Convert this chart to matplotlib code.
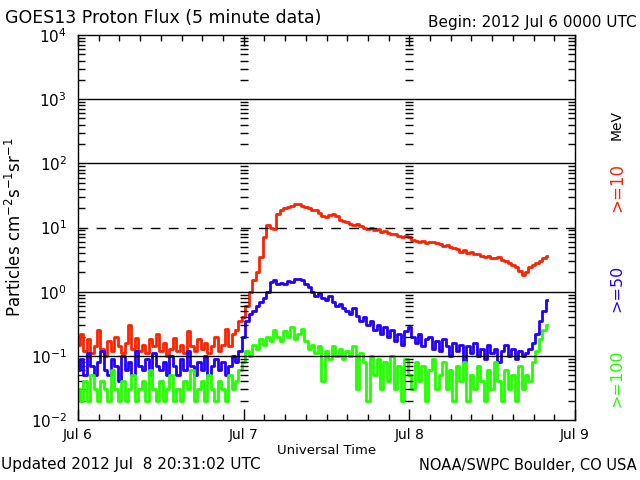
import numpy as np
import matplotlib.pyplot as plt
from matplotlib.ticker import FixedLocator, NullFormatter

# 30-minute values, starting 2012 Jul 6 00:00 UTC
red = [0.15, 0.22, 0.12, 0.18, 0.11, 0.14, 0.25, 0.13, 0.10, 0.17, 0.12, 0.20,
       0.14, 0.11, 0.16, 0.30, 0.13, 0.19, 0.12, 0.15, 0.11, 0.18, 0.14, 0.22,
       0.12, 0.16, 0.10, 0.13, 0.19, 0.12, 0.15, 0.11, 0.24, 0.14, 0.12, 0.18,
       0.13, 0.16, 0.11, 0.14, 0.20, 0.12, 0.15, 0.26, 0.14, 0.22, 0.25, 0.35,
       0.4, 0.6, 1.0, 1.5, 2.0, 3.5, 7.0, 11.0, 10.0, 9.5, 16.0, 19.0,
       20.0, 21.0, 22.0, 23.0, 23.0, 22.0, 21.0, 20.0, 19.0, 18.5, 17.0, 15.0,
       14.5, 15.5, 16.5, 15.0, 13.0, 12.5, 12.0, 11.5, 11.0, 11.5, 10.5, 10.0,
       9.5, 10.0, 9.0, 9.5, 8.5, 8.8, 8.3, 8.0, 7.8, 7.5, 7.2, 7.5,
       7.0, 6.5, 6.2, 6.0, 6.1, 5.8, 6.0, 5.9, 5.7, 5.5, 5.2, 5.3,
       5.0, 4.8, 4.7, 4.2, 4.5, 4.0, 4.2, 3.8, 3.9, 3.6, 3.5, 3.6,
       3.4, 3.3, 3.5, 3.1, 3.0, 2.8, 2.6, 2.4, 2.1, 1.8, 2.0, 2.4,
       2.6, 2.8, 3.0, 3.3, 3.6]

blue = [0.06, 0.09, 0.05, 0.11, 0.07, 0.05, 0.08, 0.12, 0.06, 0.05, 0.09, 0.07,
        0.04, 0.10, 0.06, 0.08, 0.05, 0.12, 0.07, 0.06, 0.09, 0.05, 0.11, 0.07,
        0.06, 0.08, 0.05, 0.10, 0.07, 0.05, 0.09, 0.06, 0.12, 0.07, 0.05, 0.08,
        0.06, 0.10, 0.05, 0.07, 0.09, 0.06, 0.08, 0.05, 0.07, 0.10, 0.08, 0.12,
        0.2, 0.35, 0.45, 0.5, 0.6, 0.7, 0.8, 1.0, 1.4, 1.5, 1.3, 1.35,
        1.3, 1.45, 1.4, 1.55, 1.6, 1.5, 1.3, 1.2, 1.0, 0.85, 0.95, 0.8,
        0.75, 0.85, 0.7, 0.6, 0.65, 0.55, 0.5, 0.45, 0.55, 0.42, 0.35, 0.4,
        0.3, 0.35, 0.25, 0.3, 0.22, 0.28, 0.2, 0.25, 0.17, 0.22, 0.15, 0.24,
        0.28, 0.2, 0.16, 0.22, 0.14, 0.18, 0.2, 0.13, 0.17, 0.12, 0.18, 0.14,
        0.1, 0.16, 0.12, 0.15, 0.08, 0.14, 0.11, 0.16, 0.1, 0.13, 0.09, 0.15,
        0.11, 0.13, 0.08, 0.12, 0.15, 0.1, 0.13, 0.09, 0.12, 0.1, 0.11, 0.13,
        0.16, 0.22, 0.35, 0.5, 0.75]

green = [0.03, 0.02, 0.04, 0.02, 0.05, 0.03, 0.02, 0.04, 0.03, 0.02, 0.06, 0.03,
         0.02, 0.04, 0.02, 0.03, 0.05, 0.02, 0.03, 0.04, 0.02, 0.06, 0.03, 0.02,
         0.04, 0.02, 0.03, 0.05, 0.02, 0.03, 0.02, 0.04, 0.03, 0.06, 0.02, 0.03,
         0.04, 0.02, 0.05, 0.03, 0.02, 0.04, 0.03, 0.02, 0.05, 0.03, 0.04, 0.06,
         0.08, 0.12, 0.1, 0.15, 0.13, 0.18, 0.15, 0.2, 0.17, 0.25, 0.2, 0.17,
         0.24, 0.2, 0.28, 0.18, 0.22, 0.26, 0.17, 0.13, 0.15, 0.11, 0.14, 0.04,
         0.12, 0.09, 0.14, 0.1, 0.13, 0.09, 0.12, 0.1, 0.14, 0.03, 0.11, 0.08,
         0.02, 0.1, 0.05, 0.09, 0.03, 0.08, 0.04, 0.1, 0.03, 0.07, 0.02, 0.09,
         0.05, 0.03, 0.08, 0.04, 0.07, 0.02, 0.06, 0.09, 0.03, 0.05, 0.08, 0.03,
         0.06, 0.02, 0.07, 0.04, 0.08, 0.02, 0.05, 0.03, 0.07, 0.04, 0.02, 0.06,
         0.03, 0.08, 0.04, 0.02, 0.06, 0.03, 0.05, 0.02, 0.07, 0.03, 0.05, 0.04,
         0.08, 0.12, 0.18, 0.25, 0.3]

day_ticks = [0, 24, 48, 72]
day_labels = ['Jul 6', 'Jul 7', 'Jul 8', 'Jul 9']
decades = [1e-2, 1e-1, 1e0, 1e1, 1e2, 1e3, 1e4]

t_red = np.arange(len(red)) * 0.5
t_blue = np.arange(len(blue)) * 0.5
t_green = np.arange(len(green)) * 0.5

fig = plt.figure(figsize=(6.4, 4.8), dpi=100)
ax = fig.add_axes([78 / 640, 60 / 480, 497 / 640, 385 / 480])
ax.set_yscale('log')
ax.set_xlim(0, 72)
ax.set_ylim(1e-2, 1e4)

ax.plot(t_red, red, drawstyle='steps-mid', color='#ff2200', lw=2)
ax.plot(t_blue, blue, drawstyle='steps-mid', color='#2200ff', lw=2)
ax.plot(t_green, green, drawstyle='steps-mid', color='#22ff00', lw=2)

# decade lines, 10 MeV threshold dashed
for d in [3, 2, 0, -1]:
    ax.axhline(10.0 ** d, color='k', lw=1)
ax.axhline(10, color='k', lw=1, ls=(0, (7, 6)))

# log ticks repeated at the day boundaries
minor_vals = [m * 10.0 ** d for d in range(-2, 4) for m in range(2, 10)]
for day in (24, 48):
    ax.plot([day] * len(minor_vals), minor_vals, ls='none', marker='_',
            ms=6, mew=1, color='k')

ax.set_xticks(day_ticks)
ax.set_xticklabels(day_labels, fontsize=10)
ax.xaxis.set_minor_locator(FixedLocator(np.arange(0, 73, 3)))
ax.xaxis.set_minor_formatter(NullFormatter())
ax.yaxis.set_major_locator(FixedLocator(decades))
ax.yaxis.set_minor_locator(FixedLocator(minor_vals))
ax.yaxis.set_minor_formatter(NullFormatter())
ax.tick_params(which='both', direction='in', top=True, right=True, width=1)
ax.tick_params(axis='x', which='major', length=8, pad=6)
ax.tick_params(axis='x', which='minor', length=4)
ax.tick_params(axis='y', which='major', length=0, pad=8, labelsize=11)
ax.tick_params(axis='y', which='minor', length=5)
for s in ax.spines.values():
    s.set_linewidth(1)

ax.set_xlabel('Universal Time', fontsize=9.5, labelpad=1)
ax.set_ylabel('Particles cm$^{-2}$s$^{-1}$sr$^{-1}$', fontsize=12, labelpad=4)

fig.text(5 / 640, 1 - 18 / 480, 'GOES13 Proton Flux (5 minute data)',
         fontsize=12.5, va='center', ha='left')
fig.text(637 / 640, 1 - 22 / 480, 'Begin: 2012 Jul 6 0000 UTC',
         fontsize=11, va='center', ha='right')
fig.text(1 / 640, 1 - 465 / 480, 'Updated 2012 Jul  8 20:31:02 UTC',
         fontsize=11, va='center', ha='left')
fig.text(637 / 640, 1 - 465 / 480, 'NOAA/SWPC Boulder, CO USA',
         fontsize=10.5, va='center', ha='right')

fig.text(617 / 640, 1 - 125 / 480, 'MeV', rotation=90, fontsize=10,
         color='k', va='center', ha='center')
fig.text(617 / 640, 1 - 188 / 480, '>=10', rotation=90, fontsize=12,
         color='#ff2200', va='center', ha='center')
fig.text(617 / 640, 1 - 288 / 480, '>=50', rotation=90, fontsize=11.5,
         color='#2200ff', va='center', ha='center')
fig.text(617 / 640, 1 - 378 / 480, '>=100', rotation=90, fontsize=11.5,
         color='#22ff00', va='center', ha='center')

fig.savefig('out.png', dpi=100)
